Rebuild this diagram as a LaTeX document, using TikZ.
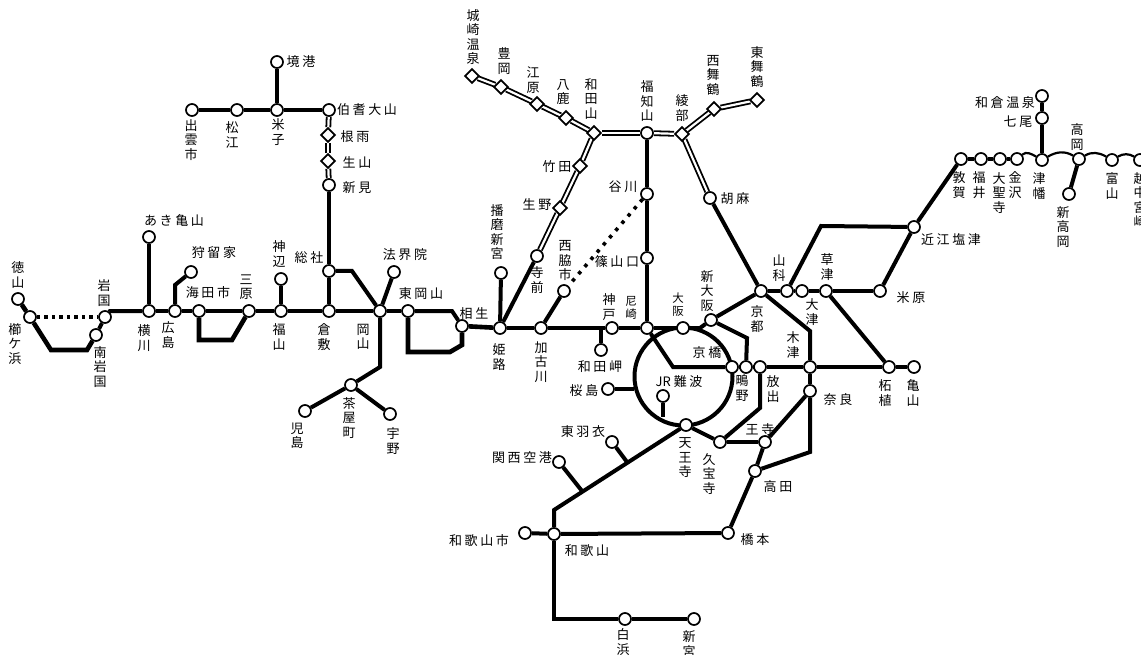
\documentclass[tikz,border=0pt]{standalone}
\usepackage{fontspec}
\setmainfont{Noto Sans CJK JP}
\newfontfamily\lblh[LetterSpace=20]{Noto Sans CJK JP}
\usetikzlibrary{shapes.geometric}
\pgfdeclarelayer{bg}
\pgfsetlayers{bg,main}
\tikzset{
  sta/.style={circle,draw=black,fill=white,line width=1.7pt,minimum size=12pt,inner sep=0pt},
  dia/.style={diamond,draw=black,fill=white,line width=1.7pt,minimum size=14.5pt,aspect=1,inner sep=0pt},
  vl/.style={inner sep=0pt,align=center,font=\fontsize{13}{14.5}\selectfont},
  vs/.style={inner sep=0pt,align=center,font=\fontsize{11.5}{13}\selectfont},
  hl/.style={inner sep=0pt,font=\fontsize{13}{14.5}\selectfont\lblh},
  rail/.style={draw=black,line width=4pt,line join=miter},
  thick rail/.style={draw=black,line width=4.6pt,line join=miter},
  dbl/.style={draw=black,line width=1.8pt,double=white,double distance=2.2pt},
  wave/.style={draw=black,line width=2.2pt},
  dot/.style={draw=black,line width=3.6pt,dash pattern=on 3.5pt off 4pt},
  dotwide/.style={draw=black,line width=3.6pt,dash pattern=on 3.5pt off 6pt}
}
\begin{document}
\begin{tikzpicture}[x=1pt,y=-1pt]
\useasboundingbox (0,0) rectangle (1141,655);
% stations: west
\node[sta] (tokuyama) at (18,299) {};
\node[sta] (kushi) at (30,317) {};
\node[sta] (iwakuni) at (105,317) {};
\node[sta] (miwakuni) at (96,335) {};
\node[sta] (yokogawa) at (149,311) {};
\node[sta] (hiroshima) at (175,311) {};
\node[sta] (kaita) at (199,311) {};
\node[sta] (mihara) at (249,311) {};
\node[sta] (fukuyama) at (281,311) {};
\node[sta] (kurashiki) at (329,311) {};
\node[sta] (okayama) at (380,311) {};
\node[sta] (higashiok) at (408,311) {};
\node[sta] (aioi) at (462,326) {};
\node[sta] (himeji) at (500,328) {};
\node[sta] (kakogawa) at (541,328) {};
\node[sta] (kobe) at (612,328) {};
\node[sta] (amagasaki) at (647,328) {};
\node[sta] (osaka) at (683,328) {};
\node[sta] (akikame) at (149,237) {};
\node[sta] (kabe) at (191,272) {};
\node[sta] (kannabe) at (281,279) {};
\node[sta] (soja) at (329,271) {};
\node[sta] (hokaiin) at (394,272) {};
\node[sta] (chaya) at (351,385) {};
\node[sta] (kojima) at (305,411) {};
\node[sta] (uno) at (390,414) {};
% north-west
\node[sta] (sakai) at (277,62) {};
\node[sta] (yonago) at (277,110) {};
\node[sta] (matsue) at (237,110) {};
\node[sta] (izumo) at (192,110) {};
\node[sta] (hoki) at (329,110) {};
\node[dia] (neu) at (328,135) {};
\node[dia] (shoyama) at (328,161) {};
\node[sta] (niimi) at (329,185) {};
% north
\node[dia] (kinosaki) at (472,76) {};
\node[dia] (toyooka) at (501,87) {};
\node[dia] (ebara) at (537,104) {};
\node[dia] (yoka) at (566,118) {};
\node[dia] (wadayama) at (594,133) {};
\node[sta] (fukuchi) at (647,133) {};
\node[dia] (ayabe) at (682,134) {};
\node[dia] (nishimai) at (714,109) {};
\node[dia] (higashimai) at (757,100) {};
\node[dia] (takeda) at (580,166) {};
\node[dia] (ikuno) at (560,208) {};
\node[sta] (teramae) at (537,256) {};
\node[sta] (harima) at (501,273) {};
\node[sta] (goma) at (710,198) {};
\node[sta] (tanigawa) at (647,194) {};
\node[sta] (sasayama) at (647,258) {};
\node[sta] (nishiwaki) at (564,291) {};
\node[sta] (wadamisaki) at (601,350) {};
% Osaka area
\node[sta] (shinosaka) at (711,320) {};
\node[sta] (kyobashi) at (732,367) {};
\node[sta] (shigino) at (746,367) {};
\node[sta] (hanaten) at (760,367) {};
\node[sta] (kizu) at (810,367) {};
\node[sta] (tsuge) at (889,367) {};
\node[sta] (kameyama) at (914,367) {};
\node[sta] (nanba) at (663,396) {};
\node[sta] (sakurajima) at (608,389) {};
\node[sta] (tennoji) at (686,425) {};
\node[sta] (kyuhoji) at (720,442) {};
\node[sta] (oji) at (765,442) {};
\node[sta] (nara) at (810,391) {};
\node[sta] (takada) at (755,471) {};
\node[sta] (hashimoto) at (728,533) {};
\node[sta] (wakayama) at (554,534) {};
\node[sta] (wakayamashi) at (525,533) {};
\node[sta] (hagoromo) at (612,442) {};
\node[sta] (kix) at (559,462) {};
\node[sta] (shirahama) at (625,619) {};
\node[sta] (shingu) at (694,619) {};
% east
\node[sta] (kyoto) at (761,291) {};
\node[sta] (yamashina) at (787,291) {};
\node[sta] (otsu) at (802,291) {};
\node[sta] (kusatsu) at (826,291) {};
\node[sta] (maibara) at (880,291) {};
\node[sta] (omishio) at (914,227) {};
\node[sta] (tsuruga) at (961,159) {};
\node[sta] (fukui) at (981,159) {};
\node[sta] (daishoji) at (1000,159) {};
\node[sta] (kanazawa) at (1017,159) {};
\node[sta] (tsubata) at (1042,160) {};
\node[sta] (takaoka) at (1079,159) {};
\node[sta] (toyama) at (1112,160) {};
\node[sta] (ecchu) at (1140,160) {};
\node[sta] (shintaka) at (1069,194) {};
\node[sta] (nanao) at (1042,118) {};
\node[sta] (wakura) at (1042,96) {};
% bend and junction points
\coordinate (b1) at (51,350);
\coordinate (b2) at (87,350);
\coordinate (b3) at (175,285);
\coordinate (b4) at (199,340);
\coordinate (b5) at (232,340);
\coordinate (b6) at (352,271);
\coordinate (b7) at (380,367);
\coordinate (b8) at (452,311);
\coordinate (b9) at (408,352);
\coordinate (b10) at (450,352);
\coordinate (b11) at (462,345);
\coordinate (j1) at (601,328);
\coordinate (b12) at (700,328);
\coordinate (b13) at (747,338);
\coordinate (b14) at (673,367);
\coordinate (b15) at (760,408);
\coordinate (b16) at (810,452);
\coordinate (b17) at (554,510);
\coordinate (j2) at (627,462);
\coordinate (j3) at (582,491);
\coordinate (b18) at (554,619);
\coordinate (j4) at (663,417);
\coordinate (j5) at (634,389);
\coordinate (b19) at (810,331);
\coordinate (b20) at (821,226);
\coordinate (b21) at (110,311);
% connectors
\begin{pgfonlayer}{bg}
\fill[white] (0,0) rectangle (1141,655);
\node[circle,draw=black,line width=4pt,minimum size=98pt,inner sep=0pt] (ring) at (683.5,376.5) {};
\draw[thick rail] (tokuyama) -- (kushi);
\draw[thick rail] (kushi) -- (b1) -- (b2) -- (miwakuni);
\draw[rail] (miwakuni) -- (iwakuni);
\draw[dot] (kushi) -- (iwakuni);
\draw[rail] (iwakuni) -- (b21) -- (yokogawa);
\draw[rail] (yokogawa) -- (hiroshima);
\draw[rail] (hiroshima) -- (kaita);
\draw[rail] (kaita) -- (mihara);
\draw[thick rail] (kaita) -- (b4) -- (b5) -- (mihara);
\draw[rail] (mihara) -- (fukuyama);
\draw[rail] (fukuyama) -- (kurashiki);
\draw[rail] (kurashiki) -- (okayama);
\draw[rail] (okayama) -- (higashiok);
\draw[rail] (higashiok) -- (b8) -- (aioi);
\draw[thick rail] (higashiok) -- (b9) -- (b10) -- (b11) -- (aioi);
\draw[thick rail] (aioi) -- (himeji);
\draw[thick rail] (himeji) -- (kakogawa);
\draw[thick rail] (kakogawa) -- (kobe);
\draw[rail] (kobe) -- (amagasaki);
\draw[rail] (amagasaki) -- (osaka);
\draw[rail] (yokogawa) -- (akikame);
\draw[rail] (hiroshima) -- (b3) -- (kabe);
\draw[rail] (fukuyama) -- (kannabe);
\draw[rail] (kurashiki) -- (soja);
\draw[rail] (soja) -- (b6) -- (okayama);
\draw[rail] (okayama) -- (hokaiin);
\draw[rail] (okayama) -- (b7) -- (chaya);
\draw[rail] (chaya) -- (kojima);
\draw[rail] (chaya) -- (uno);
\draw[rail] (soja) -- (niimi);
\draw[dbl] (niimi) -- (shoyama);
\draw[dbl] (shoyama) -- (neu);
\draw[dbl] (neu) -- (hoki);
\draw[rail] (hoki) -- (yonago);
\draw[rail] (yonago) -- (sakai);
\draw[rail] (yonago) -- (matsue);
\draw[thick rail] (matsue) -- (izumo);
\draw[dbl] (kinosaki) -- (toyooka);
\draw[dbl] (toyooka) -- (ebara);
\draw[dbl] (ebara) -- (yoka);
\draw[dbl] (yoka) -- (wadayama);
\draw[dbl] (wadayama) -- (fukuchi);
\draw[dbl] (fukuchi) -- (ayabe);
\draw[dbl] (ayabe) -- (nishimai);
\draw[dbl] (nishimai) -- (higashimai);
\draw[dbl] (ayabe) -- (goma);
\draw[dbl] (wadayama) -- (takeda);
\draw[dbl] (takeda) -- (ikuno);
\draw[dbl] (ikuno) -- (teramae);
\draw[rail] (teramae) -- (himeji);
\draw[rail] (himeji) -- (harima);
\draw[rail] (goma) -- (kyoto);
\draw[rail] (fukuchi) -- (tanigawa);
\draw[rail] (tanigawa) -- (sasayama);
\draw[rail] (sasayama) -- (amagasaki);
\draw[dotwide] (tanigawa) -- (nishiwaki);
\draw[rail] (nishiwaki) -- (kakogawa);
\draw[rail] (j1) -- (wadamisaki);
\draw[rail] (osaka) -- (b12) -- (shinosaka);
\draw[rail] (shinosaka) -- (kyoto);
\draw[rail] (shinosaka) -- (b13) -- (shigino);
\draw[rail] (amagasaki) -- (b14) -- (kyobashi);
\draw[rail] (kyobashi) -- (shigino);
\draw[rail] (shigino) -- (hanaten);
\draw[rail] (hanaten) -- (kizu);
\draw[rail] (kizu) -- (tsuge);
\draw[rail] (tsuge) -- (kameyama);
\draw[rail] (hanaten) -- (b15) -- (kyuhoji);
\draw[rail] (tennoji) -- (kyuhoji);
\draw[rail] (kyuhoji) -- (oji);
\draw[rail] (oji) -- (nara);
\draw[rail] (oji) -- (takada);
\draw[rail] (kizu) -- (nara);
\draw[rail] (nara) -- (b16) -- (takada);
\draw[rail] (takada) -- (hashimoto);
\draw[rail] (hashimoto) -- (wakayama);
\draw[rail] (wakayama) -- (wakayamashi);
\draw[rail] (tennoji) -- (b17) -- (wakayama);
\draw[rail] (hagoromo) -- (j2);
\draw[rail] (kix) -- (j3);
\draw[rail] (wakayama) -- (b18) -- (shirahama);
\draw[rail] (shirahama) -- (shingu);
\draw[rail] (nanba) -- (j4);
\draw[rail] (sakurajima) -- (j5);
\draw[rail] (kyoto) -- (b19) -- (kizu);
\draw[rail] (kyoto) -- (yamashina);
\draw[rail] (yamashina) -- (otsu);
\draw[rail] (otsu) -- (kusatsu);
\draw[rail] (kusatsu) -- (maibara);
\draw[rail] (kusatsu) -- (tsuge);
\draw[rail] (yamashina) -- (b20) -- (omishio);
\draw[rail] (maibara) -- (omishio);
\draw[rail] (omishio) -- (tsuruga);
\draw[thick rail] (tsuruga) -- (fukui);
\draw[thick rail] (fukui) -- (daishoji);
\draw[rail] (daishoji) -- (kanazawa);
\draw[wave] (kanazawa) to[out=40,in=150] (tsubata);
\draw[wave] (tsubata) to[out=30,in=150] (takaoka);
\draw[wave] (takaoka) to[out=30,in=150] (toyama);
\draw[wave] (toyama) to[out=30,in=150] (ecchu);
\draw[rail] (takaoka) -- (shintaka);
\draw[thick rail] (tsubata) -- (nanao);
\draw[rail] (nanao) -- (wakura);
\end{pgfonlayer}
% labels
\node[vl] (t1) at (18,275) {徳\\山};
\node[vl] (t2) at (15,344) {櫛\\ケ\\浜};
\node[vl] (t3) at (104,293) {岩\\国};
\node[vl] (t4) at (100,367) {南\\岩\\国};
\node[hl] (t5) at (174,221) {あき亀山};
\node[hl] (t6) at (214,253) {狩留家};
\node[hl] (t7) at (208,293) {海田市};
\node[vl] (t8) at (246,287) {三\\原};
\node[vl] (t9) at (279,254) {神\\辺};
\node[vl] (t10) at (144,338) {横\\川};
\node[vl] (t11) at (168,335) {広\\島};
\node[vl] (t12) at (279,337) {福\\山};
\node[hl] (t13) at (309,258) {総社};
\node[hl] (t14) at (405,255) {法界院};
\node[hl] (t15) at (421,294) {東岡山};
\node[hl] (t16) at (474,314) {相生};
\node[vl] (t17) at (324,337) {倉\\敷};
\node[vl] (t18) at (363,337) {岡\\山};
\node[vl] (t19) at (349,418) {茶\\屋\\町};
\node[vl] (t20) at (297,436) {児\\島};
\node[vl] (t21) at (393,441) {宇\\野};
\node[vl] (t22) at (499,357) {姫\\路};
\node[vl] (t23) at (497,232) {播\\磨\\新\\宮};
\node[vl] (t24) at (537,280) {寺\\前};
\node[vl] (t25) at (565,261) {西\\脇\\市};
\node[vl] (t26) at (541,362) {加\\古\\川};
\node[vl] (t27) at (609,307) {神\\戸};
\node[vs] (t28) at (631,308) {尼\\崎};
\node[vs] (t29) at (678,305) {大\\阪};
\node[vl] (t30) at (707,291) {新\\大\\阪};
\node[hl] (t31) at (707,353) {京橋};
\node[hl] (t32) at (600,367) {和田岬};
\node[hl] (t33) at (584,391) {桜島};
\node[hl] (t34) at (679,382) {{\rmfamily JR }難波};
\node[vl] (t35) at (742,388) {鴫\\野};
\node[vl] (t36) at (773,389) {放\\出};
\node[vl] (t37) at (793,345) {木\\津};
\node[vl] (t38) at (812,312) {大\\津};
\node[vl] (t39) at (757,319) {京\\都};
\node[vl] (t40) at (779,268) {山\\科};
\node[vl] (t41) at (827,267) {草\\津};
\node[hl] (t42) at (911,298) {米原};
\node[hl] (t43) at (951,240) {近江塩津};
\node[vl] (t44) at (885,393) {柘\\植};
\node[vl] (t45) at (913,393) {亀\\山};
\node[hl] (t46) at (838,400) {奈良};
\node[hl] (t47) at (735,199) {胡麻};
\node[vl] (t48) at (647,101) {福\\知\\山};
\node[vl] (t49) at (682,108) {綾\\部};
\node[vl] (t50) at (713,75) {西\\舞\\鶴};
\node[vl] (t51) at (757,67) {東\\舞\\鶴};
\node[vl] (t52) at (591,99) {和\\田\\山};
\node[vl] (t53) at (563,92) {八\\鹿};
\node[vl] (t54) at (533,80) {江\\原};
\node[vl] (t55) at (504,61) {豊\\岡};
\node[vl] (t56) at (473,37) {城\\崎\\温\\泉};
\node[hl] (t57) at (557,167) {竹田};
\node[hl] (t58) at (537,205) {生野};
\node[hl] (t59) at (623,187) {谷川};
\node[hl] (t60) at (617,262) {篠山口};
\node[hl] (t61) at (367,110) {伯耆大山};
\node[hl] (t62) at (355,137) {根雨};
\node[hl] (t63) at (357,162) {生山};
\node[hl] (t64) at (357,188) {新見};
\node[hl] (t65) at (301,62) {境港};
\node[vl] (t66) at (278,132) {米\\子};
\node[vl] (t67) at (232,135) {松\\江};
\node[vl] (t68) at (191,140) {出\\雲\\市};
\node[hl] (t69) at (1005,103) {和倉温泉};
\node[hl] (t70) at (1018,122) {七尾};
\node[vl] (t71) at (1077,137) {高\\岡};
\node[vl] (t72) at (959,185) {敦\\賀};
\node[vl] (t73) at (979,185) {福\\井};
\node[vl] (t74) at (999,193) {大\\聖\\寺};
\node[vl] (t75) at (1015,185) {金\\沢};
\node[vl] (t76) at (1039,186) {津\\幡};
\node[vl] (t77) at (1112,186) {富\\山};
\node[vl] (t78) at (1140,200) {越\\中\\宮\\崎};
\node[vl] (t79) at (1063,227) {新\\高\\岡};
\node[hl] (t80) at (583,432) {東羽衣};
\node[hl] (t81) at (522,458) {関西空港};
\node[vl] (t82) at (685,458) {天\\王\\寺};
\node[vl] (t83) at (709,474) {久\\宝\\寺};
\node[hl] (t84) at (760,430) {王寺};
\node[hl] (t85) at (778,487) {高田};
\node[hl] (t86) at (755,540) {橋本};
\node[hl] (t87) at (587,551) {和歌山};
\node[hl] (t88) at (479,541) {和歌山市};
\node[vl] (t89) at (623,642) {白\\浜};
\node[vl] (t90) at (689,644) {新\\宮};
\end{tikzpicture}
\end{document}
